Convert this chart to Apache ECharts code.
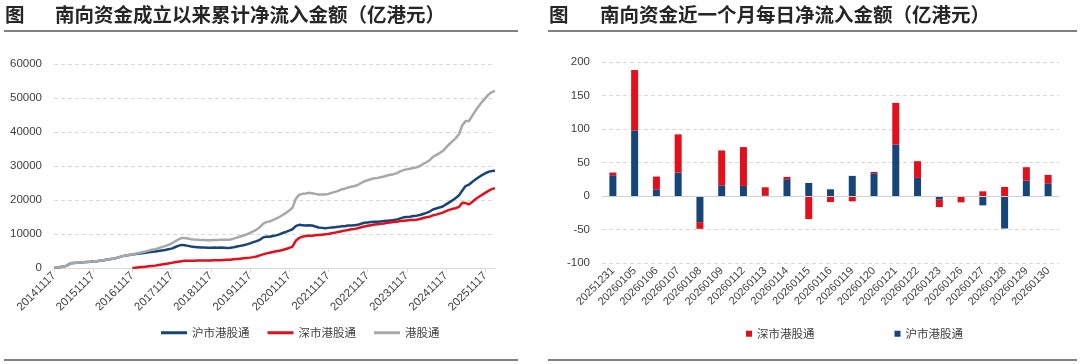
<!DOCTYPE html>
<html><head><meta charset="utf-8">
<script src="https://cdn.jsdelivr.net/npm/echarts@6/dist/echarts.min.js"></script>
<style>html,body{margin:0;padding:0;background:#fff}#c{width:1080px;height:364px}</style>
</head><body><div id="c"></div>
<script>
// ---------- Left chart: cumulative net inflow (亿港元), monthly samples ----------
const cumDates = [
 '20141117','20141217',
 '20150117','20150217','20150317','20150417','20150517','20150617','20150717','20150817','20150917','20151017','20151117','20151217',
 '20160117','20160217','20160317','20160417','20160517','20160617','20160717','20160817','20160917','20161017','20161117','20161217',
 '20170117','20170217','20170317','20170417','20170517','20170617','20170717','20170817','20170917','20171017','20171117','20171217',
 '20180117','20180217','20180317','20180417','20180517','20180617','20180717','20180817','20180917','20181017','20181117','20181217',
 '20190117','20190217','20190317','20190417','20190517','20190617','20190717','20190817','20190917','20191017','20191117','20191217',
 '20200117','20200217','20200317','20200417','20200517','20200617','20200717','20200817','20200917','20201017','20201117','20201217',
 '20210117','20210217','20210317','20210417','20210517','20210617','20210717','20210817','20210917','20211017','20211117','20211217',
 '20220117','20220217','20220317','20220417','20220517','20220617','20220717','20220817','20220917','20221017','20221117','20221217',
 '20230117','20230217','20230317','20230417','20230517','20230617','20230717','20230817','20230917','20231017','20231117','20231217',
 '20240117','20240217','20240317','20240417','20240517','20240617','20240717','20240817','20240917','20241017','20241117','20241217',
 '20250117','20250217','20250317','20250417','20250517','20250617','20250717','20250817','20250917','20251017','20251117','20251217',
 '20260117','20260130'
];
const cumSH = [
 0,150,300,450,700,1400,1500,1550,1600,1700,1800,1850,
 1950,2000,2100,2200,2400,2550,2700,2900,3200,3500,3700,3850,
 3950,4100,4250,4350,4450,4600,4750,4850,5000,5150,5300,5500,
 5700,6100,6500,6800,6700,6500,6300,6200,6100,6000,6000,5950,
 5950,6000,5950,6000,5950,5900,5950,6100,6300,6500,6700,6950,
 7250,7600,7900,8300,9000,9200,9200,9400,9600,9900,10300,10600,
 11000,11400,12300,12700,12600,12500,12600,12500,12200,11900,11800,11700,
 11800,11900,12000,12100,12300,12300,12500,12500,12600,12700,13000,13300,
 13400,13500,13600,13600,13700,13800,13900,14000,14100,14300,14600,14900,
 15000,15100,15300,15400,15600,15900,16200,16600,17200,17500,17800,18100,
 18700,19300,19900,20600,21400,22800,24100,24500,25300,26000,26700,27300,
 27800,28300,28500,28600
];
const cumSZ = [
 null,null,null,null,null,null,null,null,null,null,null,null,
 null,null,null,null,null,null,null,null,null,null,null,null,
 0,100,200,300,400,500,600,700,850,1000,1150,1300,
 1500,1700,1850,2000,2100,2150,2150,2150,2200,2200,2200,2200,
 2200,2250,2250,2300,2350,2400,2450,2550,2650,2750,2850,2950,
 3050,3200,3400,3700,4000,4300,4500,4700,4900,5100,5300,5600,
 5900,6300,8000,8800,9200,9400,9500,9500,9600,9700,9800,9900,
 10000,10200,10400,10600,10800,11000,11200,11400,11500,11700,12000,12200,
 12400,12600,12800,12900,13000,13100,13300,13400,13500,13600,13800,13900,
 14000,14100,14100,14200,14400,14700,14900,15100,15500,15700,16000,16300,
 16700,17100,17400,17600,18000,19200,19100,18700,19400,20200,20900,21500,
 22100,22700,23200,23500
];
const cumHK = [
 0,150,300,450,700,1400,1500,1550,1600,1700,1800,1850,
 1950,2000,2100,2200,2400,2550,2700,2900,3200,3500,3700,3850,
 3950,4200,4450,4650,4850,5100,5350,5550,5850,6150,6450,6800,
 7200,7800,8350,8800,8800,8650,8450,8350,8300,8200,8200,8150,
 8150,8250,8200,8300,8300,8300,8400,8650,8950,9250,9550,9900,
 10300,10800,11300,12000,13000,13500,13700,14100,14500,15000,15600,16200,
 16900,17700,20300,21500,21800,21900,22100,22000,21800,21600,21600,21600,
 21800,22100,22400,22700,23100,23300,23700,23900,24100,24400,25000,25500,
 25800,26100,26400,26500,26700,26900,27200,27400,27600,27900,28400,28800,
 29000,29200,29400,29600,30000,30600,31100,31700,32700,33200,33800,34400,
 35400,36400,37300,38200,39400,42000,43200,43200,44700,46200,47600,48800,
 49900,51000,51700,52100
];

// ---------- Right chart: daily net inflow last month (亿港元) ----------
const dayDates = ['20251231','20260105','20260106','20260107','20260108','20260109','20260112','20260113','20260114','20260115','20260116','20260119','20260120','20260121','20260122','20260123','20260126','20260127','20260128','20260129','20260130'];
const daySH = [31, 98, 10, 35, -39, 16, 15, 1, 25, 19.5, 10, 30, 34, 77, 27, -5.5, -1.5, -14, -48.5, 23, 19];
const daySZ = [4, 90, 19, 57, -10, 52, 58, 12, 3.5, -34.5, -9, -8, 2, 62, 25, -11, -8, 7, 13.5, 20, 12.5];

const leftTitle = '南向资金成立以来累计净流入金额（亿港元）';
const rightTitle = '南向资金近一个月每日净流入金额（亿港元）';

const BLUE = '#17457a', RED = '#e2101b', GRAY = '#a8a8a8';
const FONT = "'Liberation Sans','Noto Sans CJK SC',sans-serif";
const CJK = "'Noto Sans CJK SC',sans-serif";
const TXT = '#404040';
const GRID_LINE = {show: true, lineStyle: {color: '#d9d9d9', type: [4, 3], width: 1}};

const chart = echarts.init(document.getElementById('c'), null, {renderer: 'canvas'});
const frameLine = (x1, x2, y) => ({type: 'line', shape: {x1: x1, y1: y, x2: x2, y2: y}, style: {stroke: '#808080', lineWidth: 2}});
const titleText = (x, t) => ({type: 'text', x: x, y: 5, style: {text: t, fontSize: 19.5, fontWeight: 'bold', fill: '#262626', fontFamily: CJK}});

chart.setOption({
  animation: false,
  textStyle: {fontFamily: FONT},
  graphic: [
    titleText(5, '图'), titleText(55, leftTitle),
    titleText(549, '图'), titleText(600, rightTitle),
    frameLine(4, 518, 31), frameLine(4, 518, 360),
    frameLine(548, 1077, 31), frameLine(548, 1077, 360)
  ],
  legend: [
    {data: ['沪市港股通', '深市港股通', '港股通'], left: 156, top: 322, icon: 'rect', itemWidth: 26, itemHeight: 3, itemGap: 18,
     textStyle: {fontSize: 11.5, color: TXT, fontFamily: CJK}},
    {data: ['深市港股通', '沪市港股通'], left: 741, top: 323, icon: 'rect', itemWidth: 6, itemHeight: 6, itemGap: 80,
     textStyle: {fontSize: 11.5, color: TXT, fontFamily: CJK}}
  ],
  grid: [
    {left: 54, right: 585, top: 64, bottom: 96},
    {left: 602, right: 21, top: 62, bottom: 101}
  ],
  xAxis: [
    {gridIndex: 0, type: 'category', data: cumDates, boundaryGap: false,
     axisLine: {lineStyle: {color: '#d9d9d9'}},
     axisTick: {interval: 11, length: 4, lineStyle: {color: '#d9d9d9'}},
     axisLabel: {interval: 11, rotate: 45, fontSize: 11.5, color: TXT, margin: 6}},
    {gridIndex: 1, type: 'category', data: dayDates,
     axisLine: {show: false, onZero: false}, axisTick: {show: false},
     axisLabel: {interval: 0, rotate: 45, fontSize: 11, color: TXT, margin: 6}}
  ],
  yAxis: [
    {gridIndex: 0, type: 'value', min: 0, max: 60000, interval: 10000,
     axisLine: {show: false}, axisTick: {show: false},
     axisLabel: {fontSize: 11.5, color: TXT, margin: 12, formatter: v => String(v)}, splitLine: GRID_LINE},
    {gridIndex: 1, type: 'value', min: -100, max: 200, interval: 50,
     axisLine: {show: false}, axisTick: {show: false},
     axisLabel: {fontSize: 11.5, color: TXT, margin: 12}, splitLine: GRID_LINE}
  ],
  series: [
    {name: '沪市港股通', type: 'line', xAxisIndex: 0, yAxisIndex: 0, data: cumSH, showSymbol: false,
     lineStyle: {color: BLUE, width: 2.5}, itemStyle: {color: BLUE}},
    {name: '深市港股通', type: 'line', xAxisIndex: 0, yAxisIndex: 0, data: cumSZ, showSymbol: false,
     lineStyle: {color: RED, width: 2.5}, itemStyle: {color: RED}},
    {name: '港股通', type: 'line', xAxisIndex: 0, yAxisIndex: 0, data: cumHK, showSymbol: false,
     lineStyle: {color: GRAY, width: 2.5}, itemStyle: {color: GRAY}},
    {name: '沪市港股通', type: 'bar', xAxisIndex: 1, yAxisIndex: 1, stack: 'd', data: daySH, barWidth: 7,
     itemStyle: {color: BLUE},
     markLine: {silent: true, symbol: 'none', label: {show: false}, lineStyle: {color: '#d0d0d0', type: 'solid', width: 1},
       data: [{yAxis: 0}]}},
    {name: '深市港股通', type: 'bar', xAxisIndex: 1, yAxisIndex: 1, stack: 'd', data: daySZ, barWidth: 7,
     itemStyle: {color: RED}}
  ]
});
</script></body></html>
